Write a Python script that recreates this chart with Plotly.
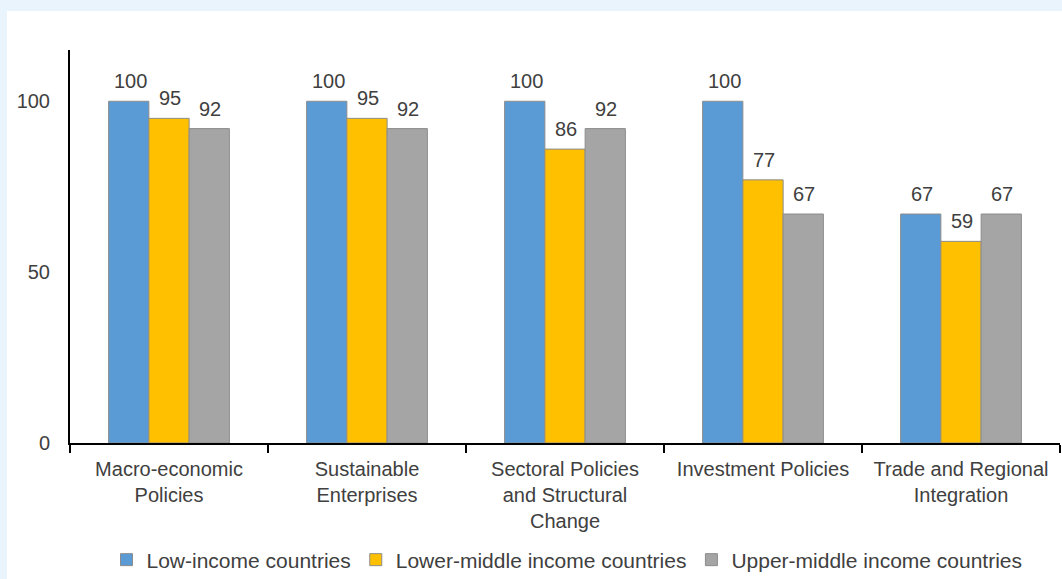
import plotly.graph_objects as go

categories = ["Macro-economic<br>Policies", "Sustainable<br>Enterprises",
              "Sectoral Policies<br>and Structural<br>Change", "Investment Policies",
              "Trade and Regional<br>Integration"]
low_income = [100, 100, 100, 100, 67]
lower_middle = [95, 95, 86, 77, 59]
upper_middle = [92, 92, 92, 67, 67]
series_names = ["Low-income countries", "Lower-middle income countries", "Upper-middle income countries"]
colors = ["#5B9BD5", "#FFC000", "#A5A5A5"]

W, H = 1062, 579
ML, MR, MT, MB = 70, 2, 50, 136
PW, PH = W - ML - MR, H - MT - MB
FONT = "Liberation Sans, Arial, sans-serif"
TXT = "#404040"
FS = 20

fig = go.Figure()
all_series = [low_income, lower_middle, upper_middle]
for name, vals, col in zip(series_names, all_series, colors):
    fig.add_trace(go.Bar(
        x=categories, y=vals, name=name,
        marker=dict(color=col, line=dict(color="#8c8c8c", width=1)),
    ))

# value labels above each bar
BARW = 40
for i, vals in enumerate(all_series):
    for c, v in zip(categories, vals):
        fig.add_annotation(x=c, y=v, text=str(v), showarrow=False,
                           xshift=(i - 1) * BARW + 1, yshift=7, yanchor="bottom",
                           font=dict(family=FONT, size=FS, color=TXT))

# white panel over light-blue page background
fig.add_shape(type="rect", xref="paper", yref="paper",
              x0=(7 - ML) / PW, x1=(W - ML + 5) / PW,
              y0=(MT + PH - H - 5) / PH, y1=(MT + PH - 11) / PH,
              fillcolor="white", line=dict(width=0), layer="below")

fig.update_layout(
    width=W, height=H,
    margin=dict(l=ML, r=MR, t=MT, b=MB, autoexpand=False),
    paper_bgcolor="#EAF4FC", plot_bgcolor="white",
    barmode="group", bargap=0.39, bargroupgap=0,
    font=dict(family=FONT, size=FS, color=TXT),
    legend=dict(orientation="h", x=567 / W, xanchor="center", xref="container",
                y=1 - 560 / H, yanchor="middle", yref="container",
                font=dict(family=FONT, size=21, color=TXT), bgcolor="rgba(0,0,0,0)",
                itemwidth=30, traceorder="normal"),
    showlegend=True,
)
fig.update_xaxes(showline=True, linecolor="black", linewidth=2, ticks="outside",
                 tickson="boundaries", ticklen=8, tickcolor="black", tickwidth=2,
                 showgrid=False, tickfont=dict(family=FONT, size=FS, color=TXT),
                 ticklabelstandoff=7, automargin=False)
fig.update_yaxes(range=[0, 115], tickvals=[0, 50, 100], showline=True, linecolor="black",
                 linewidth=2, ticks="", showgrid=False, zeroline=False,
                 tickfont=dict(family=FONT, size=FS, color=TXT), ticklabelstandoff=14,
                 automargin=False)

fig.write_html("out.html")
